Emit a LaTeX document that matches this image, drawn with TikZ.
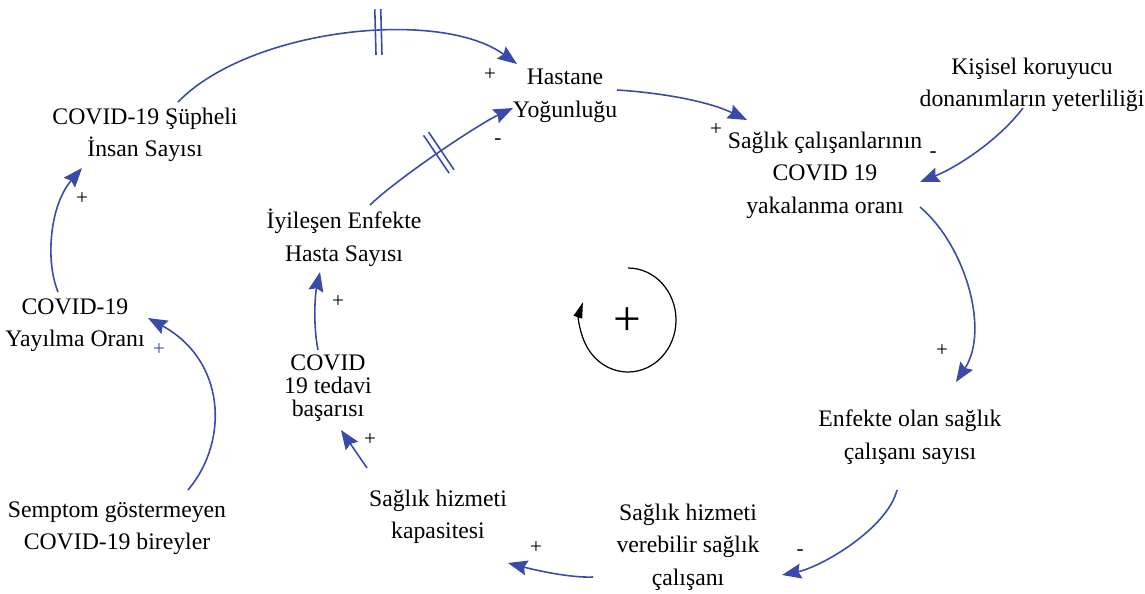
\documentclass[tikz,border=0pt]{standalone}
\usepackage{fontspec}
\setmainfont{Liberation Serif}
\usetikzlibrary{arrows.meta, calc, decorations.markings}
\definecolor{LinkBlue}{RGB}{58,74,168}

\begin{document}
\begin{tikzpicture}[x=0.02cm, y=0.02cm,
  var/.style={align=center, inner sep=1pt,
              font=\fontsize{13.5}{18.5}\selectfont},
  link/.style={-{Stealth[length=11pt, width=8.5pt, inset=1.5pt]},
               LinkBlue, line width=0.9pt},
  pol/.style={inner sep=0pt, font=\fontsize{12}{12}\selectfont},
  delay/.style={postaction={decorate},
    decoration={markings, mark=at position #1 with
      {\draw[-, LinkBlue, line width=0.9pt]
        (-1.7pt,-13pt) -- (-1.7pt,13pt) (1.7pt,-13pt) -- (1.7pt,13pt);}}}]
  \useasboundingbox (0,0) rectangle (1145,-593);
  \node[var] (hast) at (565,-96) {Hastane\\Yoğunluğu};
  \node[var] (supheli) at (145,-135) {COVID-19 Şüpheli\\İnsan Sayısı};
  \node[var] (iyi) at (344,-238) {İyileşen Enfekte\\Hasta Sayısı};
  \node[var] (yayilma) at (75,-325) {COVID-19\\Yayılma Oranı};
  \node[var, font=\fontsize{13.5}{13}\selectfont] (tedavi) at (328,-388)
    {COVID\\19 tedavi\\başarısı};
  \node[var] (semptom) at (117,-528) {Semptom göstermeyen\\COVID-19 bireyler};
  \node[var] (kapasite) at (438,-517) {Sağlık hizmeti\\kapasitesi};
  \node[var] (verebilir) at (688,-547)
    {Sağlık hizmeti\\verebilir sağlık\\çalışanı};
  \node[var] (enfekte) at (910,-437) {Enfekte olan sağlık\\çalışanı sayısı};
  \node[var] (yakalanma) at (825,-175)
    {Sağlık çalışanlarının\\COVID 19\\yakalanma oranı};
  \node[var] (kkd) at (1032,-85)
    {Kişisel koruyucu\\donanımların yeterliliği};

  \draw[link, delay=0.6] ($(supheli.center)+(33,33)$)
    .. controls (250,-28) and (440,-8) .. ($(hast.center)+(-48,32)$);
  \draw[link, delay=0.5] ($(iyi.center)+(26,33)$)
    .. controls (398,-178) and (477,-125) .. ($(hast.center)+(-52,-12)$);
  \draw[link] ($(hast.center)+(52,6)$)
    .. controls (665,-93) and (710,-102) .. ($(yakalanma.center)+(-78,55)$);
  \draw[link] ($(kkd.center)+(-9,-23)$)
    .. controls (997,-142) and (955,-168) .. ($(yakalanma.center)+(95,-7)$);
  \draw[link] ($(yakalanma.center)+(95,-32)$)
    .. controls (965,-245) and (990,-330) .. ($(enfekte.center)+(46,55)$);
  \draw[link] ($(enfekte.center)+(-13,-53)$)
    .. controls (887,-529) and (821,-567) .. ($(verebilir.center)+(94,-28)$);
  \draw[link] ($(verebilir.center)+(-95,-30)$)
    .. controls (570,-578) and (535,-570) .. ($(kapasite.center)+(70,-46)$);
  \draw[link] ($(kapasite.center)+(-71,49)$) -- ($(tedavi.center)+(13,-42)$);
  \draw[link] ($(tedavi.center)+(-10,38)$)
    .. controls (313,-325) and (315,-295) .. ($(iyi.center)+(-24,-34)$);
  \draw[link] ($(semptom.center)+(71,38)$)
    .. controls (230,-440) and (225,-360) .. ($(yayilma.center)+(73,7)$);
  \draw[link] ($(yayilma.center)+(-17,33)$)
    .. controls (45,-260) and (50,-205) .. ($(supheli.center)+(-63,-33)$);

  \node[pol] (p1) at (490,-75) {+};
  \node[pol] (p2) at (498,-142) {-};
  \node[pol] (p3) at (716,-130) {+};
  \node[pol] (p4) at (933,-155) {-};
  \node[pol] (p5) at (942,-351) {+};
  \node[pol] (p6) at (800,-553) {-};
  \node[pol] (p7) at (536,-548) {+};
  \node[pol] (p8) at (370,-440) {+};
  \node[pol] (p9) at (338,-302) {+};
  \node[pol, LinkBlue] (p10) at (159,-350) {+};
  \node[pol] (p11) at (82,-199) {+};

  \node[inner sep=0pt, font=\fontsize{28}{28}\selectfont] (loopsign)
    at (627,-322) {+};
  \draw[line width=0.7pt, -{Triangle[length=9pt, width=5pt]}]
    ($(loopsign.center)+(1,54)$)
    arc[start angle=90, end angle=-200, x radius=0.96cm, y radius=1.04cm];
\end{tikzpicture}
\end{document}
